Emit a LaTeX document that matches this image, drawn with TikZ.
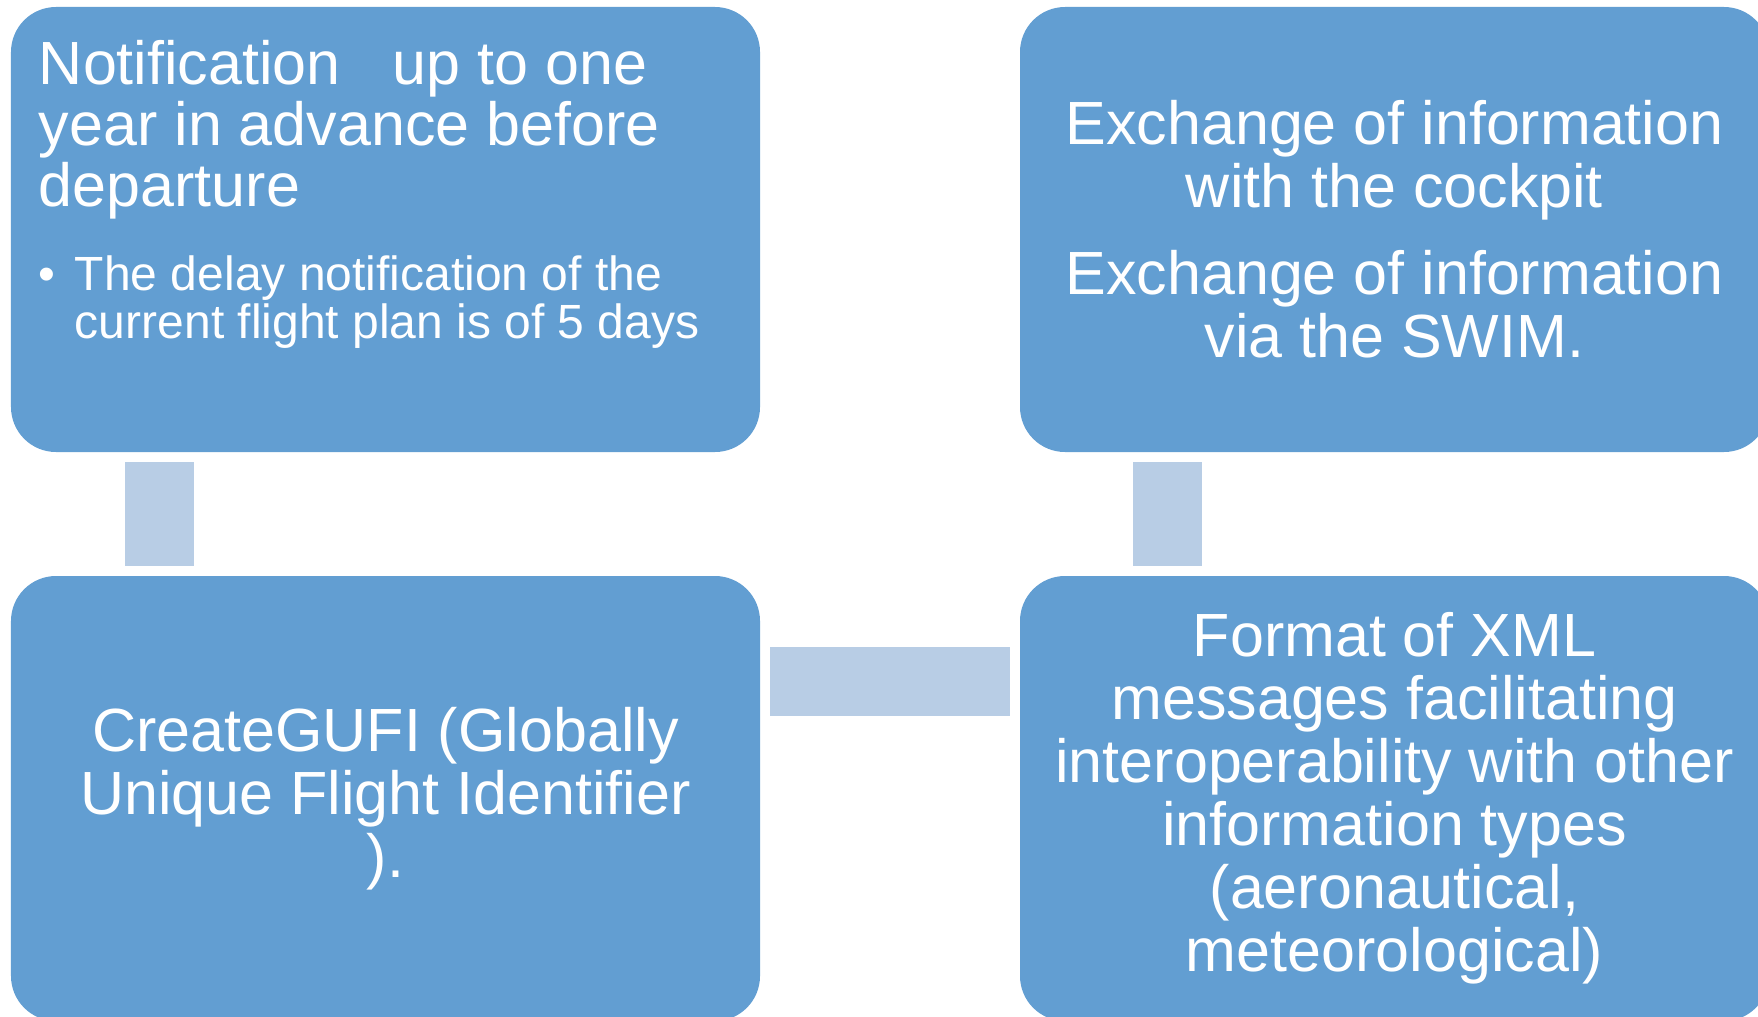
\documentclass[tikz,border=0pt]{standalone}
\usepackage{fontspec}
\setmainfont{Liberation Sans}
\newfontfamily\boxfont{Liberation Sans}

\definecolor{boxblue}{RGB}{98,158,210}
\definecolor{barblue}{RGB}{184,205,229}

\tikzset{
  stepbox/.style={fill=boxblue, rounded corners=45bp, minimum width=749bp,
    minimum height=445bp, inner sep=0pt, text=white, align=center,
    font=\boxfont\fontsize{61bp}{63bp}\selectfont},
  boxtext/.style={text=white, inner sep=0pt, anchor=base west, align=left},
  bar/.style={draw=barblue, line width=69bp, shorten <=10bp, shorten >=10bp}
}

\begin{document}
\begin{tikzpicture}[x=1bp,y=-1bp]
      \useasboundingbox (0,0) rectangle (1758,1016);
      \clip (0,0) rectangle (1758,1016);
      \node[stepbox] (notif) at (385.5,229.5) {};
      \node[stepbox] (swim) at (1394.5,229.5)
        {Exchange of information\\with the cockpit\\[24bp]Exchange of information\\via the SWIM.};
      \node[stepbox] (gufi) at (385.5,798.5)
        {CreateGUFI (Globally\\Unique Flight Identifier\\).};
      \node[stepbox] (xml) at (1394.5,798.5)
        {Format of XML\\messages facilitating\\interoperability with other\\information types\\(aeronautical,\\meteorological)};
      \draw[bar] ([xshift=148.5bp]notif.south west) -- ([xshift=148.5bp]gufi.north west);
      \draw[bar] ([xshift=147.5bp]swim.south west) -- ([xshift=147.5bp]xml.north west);
      \draw[bar] ([yshift=-105.5bp]gufi.north east) -- ([yshift=-105.5bp]xml.north west);
      \node[boxtext, font=\boxfont\fontsize{61bp}{61bp}\selectfont] (notiftext)
        at ([xshift=28bp,yshift=-200bp]notif.north west)
        {Notification\hspace{52bp}up to one\\year in advance before\\departure};
      \node[boxtext, font=\boxfont\fontsize{48bp}{48bp}\selectfont] (delaytext)
        at ([xshift=28bp,yshift=-332bp]notif.north west)
        {\makebox[36bp][l]{\textbullet}The delay notification of the\\
         \hspace*{36bp}current flight plan is of 5 days};
    \end{tikzpicture}
\end{document}
